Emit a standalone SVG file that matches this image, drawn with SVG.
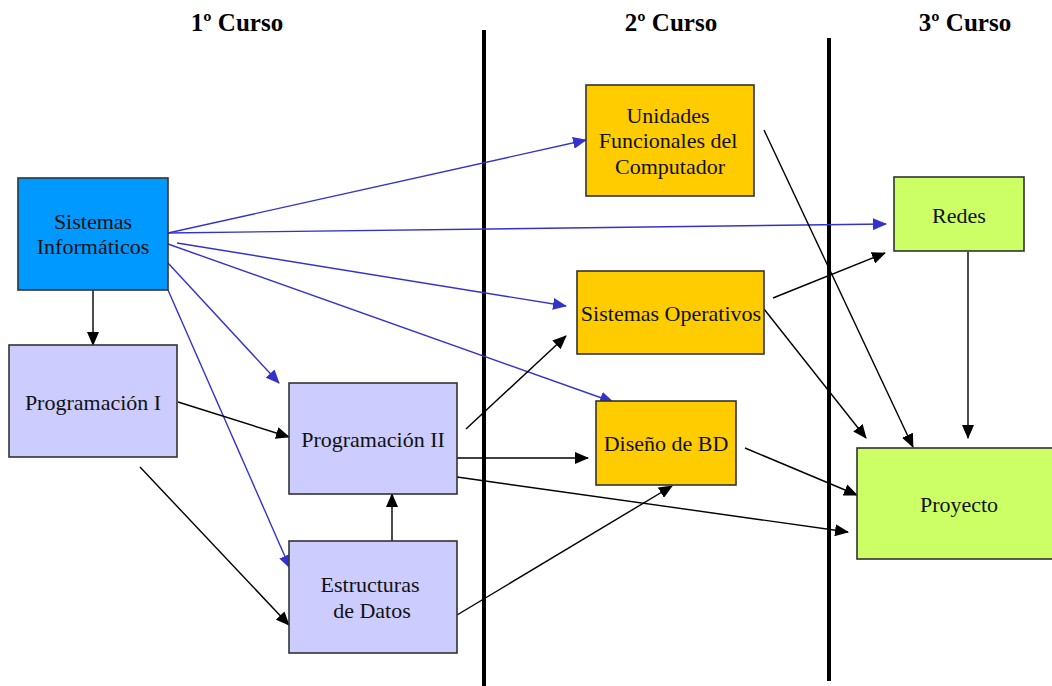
<svg xmlns="http://www.w3.org/2000/svg" width="1052" height="686" viewBox="0 0 1052 686">
  <style>
    .box { stroke: #333333; stroke-width: 1.6; }
    .si { fill: #0099FF; }
    .y1 { fill: #CCCCFF; }
    .y2 { fill: #FFCC00; }
    .y3 { fill: #CCFF66; }
    .lbl { font-family: "Liberation Serif", "Times New Roman", Tinos, serif; font-size: 22px; fill: #111111; text-anchor: middle; }
    .hdr { font-family: "Liberation Serif", "Times New Roman", Tinos, serif; font-size: 25px; font-weight: bold; fill: #000000; text-anchor: middle; }
    .sep { stroke: #000000; stroke-width: 4; }
    .bl { stroke: #3333CC; stroke-width: 1.4; fill: none; marker-end: url(#ah-blue); }
    .bk { stroke: #000000; stroke-width: 1.4; fill: none; marker-end: url(#ah-black); }
  </style>
  <defs>
    <marker id="ah-black" markerUnits="userSpaceOnUse" markerWidth="14" markerHeight="12" viewBox="0 0 14 12" refX="13" refY="6" orient="auto">
      <path d="M0,0 L14,6 L0,12 Z" fill="#000000"/>
    </marker>
    <marker id="ah-blue" markerUnits="userSpaceOnUse" markerWidth="14" markerHeight="12" viewBox="0 0 14 12" refX="13" refY="6" orient="auto">
      <path d="M0,0 L14,6 L0,12 Z" fill="#3333CC"/>
    </marker>
  </defs>

  <rect width="1052" height="686" fill="#FFFFFF"/>

  <!-- course headers -->
  <g id="headers">
    <text class="hdr" x="237" y="31">1º Curso</text>
    <text class="hdr" x="671" y="31">2º Curso</text>
    <text class="hdr" x="965" y="31">3º Curso</text>
  </g>

  <!-- course separators -->
  <g id="separators">
    <line class="sep" x1="484" y1="30" x2="484" y2="686"/>
    <line class="sep" x1="829" y1="38" x2="829" y2="681"/>
  </g>

  <!-- dependencies -->
  <g id="connectors">
    <line class="bl" x1="168" y1="233" x2="586" y2="140"/>
    <line class="bl" x1="168" y1="233" x2="886" y2="224"/>
    <line class="bl" x1="177" y1="243" x2="566" y2="306"/>
    <line class="bl" x1="168" y1="244" x2="613" y2="402"/>
    <line class="bl" x1="168" y1="263" x2="279" y2="383"/>
    <line class="bl" x1="168" y1="290" x2="290" y2="568"/>

    <line class="bk" x1="93" y1="290" x2="93" y2="345"/>
    <line class="bk" x1="178" y1="402" x2="289" y2="437"/>
    <line class="bk" x1="140" y1="467" x2="289" y2="625"/>
    <line class="bk" x1="392" y1="541" x2="392" y2="494"/>
    <line class="bk" x1="466" y1="429" x2="566" y2="336"/>
    <line class="bk" x1="457" y1="458" x2="588" y2="458"/>
    <line class="bk" x1="457" y1="477" x2="848" y2="532"/>
    <line class="bk" x1="457" y1="615" x2="672" y2="486"/>
    <line class="bk" x1="764" y1="130" x2="913" y2="447"/>
    <line class="bk" x1="773" y1="298" x2="885" y2="253"/>
    <line class="bk" x1="764" y1="309" x2="866" y2="438"/>
    <line class="bk" x1="745" y1="448" x2="857" y2="495"/>
    <line class="bk" x1="968" y1="252" x2="968" y2="438"/>
  </g>

  <g id="sistemas-informaticos">
    <rect class="box si" x="18" y="178" width="150" height="112"/>
    <text class="lbl" x="93" y="229">Sistemas</text>
    <text class="lbl" x="93" y="254">Informáticos</text>
  </g>

  <g id="programacion-1">
    <rect class="box y1" x="9" y="345" width="168" height="112"/>
    <text class="lbl" x="93" y="410">Programación I</text>
  </g>

  <g id="programacion-2">
    <rect class="box y1" x="289" y="383" width="168" height="111"/>
    <text class="lbl" x="373" y="447">Programación II</text>
  </g>

  <g id="estructuras-datos">
    <rect class="box y1" x="289" y="541" width="168" height="112"/>
    <text class="lbl" x="370" y="592">Estructuras</text>
    <text class="lbl" x="372" y="618">de Datos</text>
  </g>

  <g id="unidades-funcionales">
    <rect class="box y2" x="586" y="85" width="168" height="111"/>
    <text class="lbl" x="668" y="123">Unidades</text>
    <text class="lbl" x="668" y="148">Funcionales del</text>
    <text class="lbl" x="670" y="174">Computador</text>
  </g>

  <g id="sistemas-operativos">
    <rect class="box y2" x="577" y="271" width="187" height="83"/>
    <text class="lbl" x="671" y="321">Sistemas Operativos</text>
  </g>

  <g id="diseno-bd">
    <rect class="box y2" x="596" y="401" width="140" height="84"/>
    <text class="lbl" x="666" y="451">Diseño de BD</text>
  </g>

  <g id="redes">
    <rect class="box y3" x="894" y="177" width="130" height="74"/>
    <text class="lbl" x="959" y="223">Redes</text>
  </g>

  <g id="proyecto">
    <rect class="box y3" x="857" y="448" width="200" height="111"/>
    <text class="lbl" x="959" y="512">Proyecto</text>
  </g>
</svg>
